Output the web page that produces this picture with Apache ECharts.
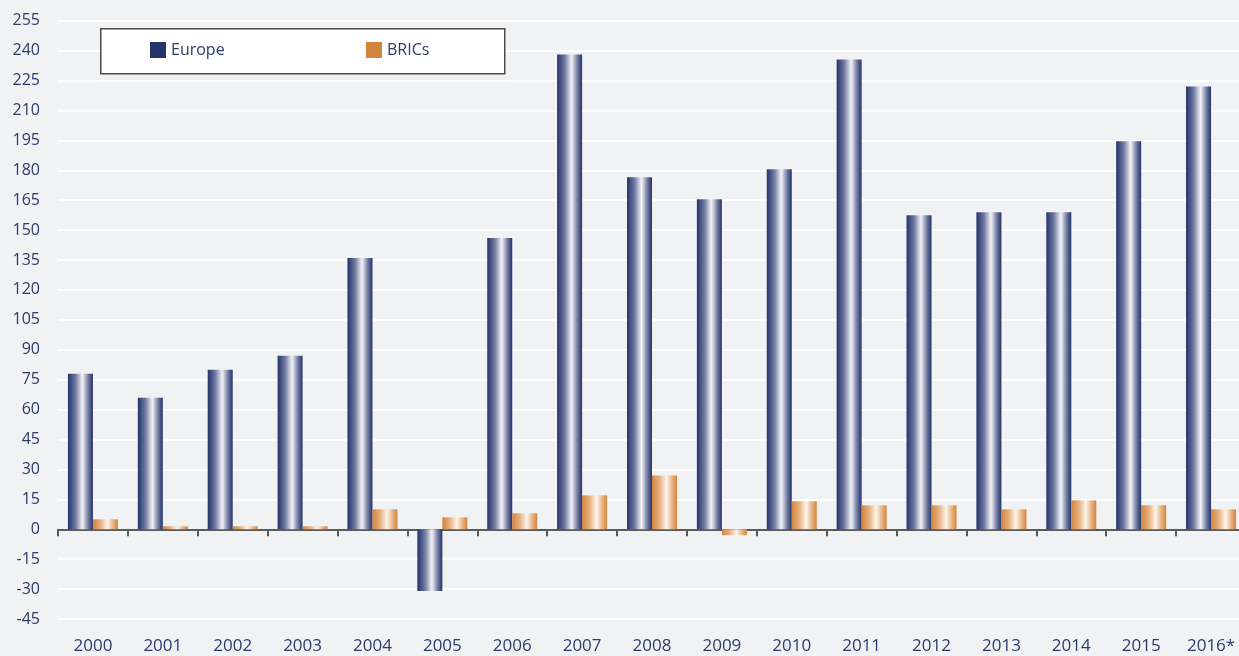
<!DOCTYPE html>
<html>
<head>
<meta charset="utf-8">
<script src="https://cdn.jsdelivr.net/npm/echarts@6/dist/echarts.min.js"></script>
<style>
  html, body { margin: 0; padding: 0; background: #f1f2f4; }
  #chart { width: 1239px; height: 656px; }
</style>
</head>
<body>
<div id="chart"></div>
<script>
const years = ['2000', '2001', '2002', '2003', '2004', '2005', '2006', '2007', '2008',
    '2009', '2010', '2011', '2012', '2013', '2014', '2015', '2016*'];
const europe = [78, 66, 80, 87, 136, -31, 146, 238, 176.5, 165.5, 180.5, 235.5, 157.5, 159, 159, 194.5, 222];
const brics = [5, 1.5, 1.5, 1.5, 10, 6, 8, 17, 27, -3, 14, 12, 12, 10, 14.5, 12, 10];

const navy = '#22346a';
const orange = '#d4843a';
const textColor = '#2c3b6c';
const font = '"Open Sans", "Noto Sans", sans-serif';

const gradient = (edge, mid, light) => ({
    type: 'linear', x: 0, y: 0, x2: 1, y2: 0,
    colorStops: [
        {offset: 0, color: edge},
        {offset: 0.3, color: mid},
        {offset: 0.58, color: light},
        {offset: 0.82, color: mid},
        {offset: 1, color: edge}
    ]
});

const legendBase = {
    top: 42,
    padding: 0,
    itemWidth: 16,
    itemHeight: 16,
    itemGap: 0,
    icon: 'rect',
    z: 10,
    textStyle: {color: textColor, fontSize: 16, fontFamily: font}
};

const option = {
    backgroundColor: '#f1f2f4',
    animation: false,
    graphic: [{
        type: 'rect',
        left: 100,
        top: 28,
        z: 5,
        shape: {width: 404, height: 45},
        style: {fill: '#ffffff', stroke: '#4a4a4a', lineWidth: 1.5}
    }],
    legend: [
        Object.assign({}, legendBase, {left: 150, data: [{name: 'Europe', itemStyle: {color: navy}}]}),
        Object.assign({}, legendBase, {left: 366, data: [{name: 'BRICs', itemStyle: {color: orange}}]})
    ],
    grid: {left: 58, top: 20.7, width: 1188, height: 598.3, containLabel: false, outerBoundsMode: 'none'},
    xAxis: [{
        type: 'category',
        data: years,
        axisLine: {onZero: true, lineStyle: {color: '#5a5a5a', width: 2}},
        axisTick: {show: true, length: 7, interval: 0, lineStyle: {color: '#5a5a5a', width: 2}},
        axisLabel: {show: false}
    }, {
        type: 'category',
        data: years,
        position: 'bottom',
        axisLine: {show: false, onZero: false},
        axisTick: {show: false},
        axisLabel: {color: textColor, fontSize: 17, fontFamily: font, margin: 19, interval: 0}
    }],
    yAxis: {
        type: 'value',
        min: -45,
        max: 255,
        interval: 15,
        axisLine: {show: false},
        axisTick: {show: false},
        axisLabel: {color: textColor, fontSize: 16, fontFamily: font, margin: 18},
        splitLine: {lineStyle: {color: '#ffffff', width: 2}}
    },
    series: [{
        name: 'Europe',
        type: 'bar',
        data: europe,
        barWidth: 25,
        barGap: '0%',
        itemStyle: {color: gradient('#22346a', '#6f789f', '#f3f3f7')}
    }, {
        name: 'BRICs',
        type: 'bar',
        data: brics,
        barWidth: 25,
        barGap: '0%',
        itemStyle: {color: gradient('#d3843c', '#e6b07e', '#fdf5ec')}
    }]
};

const chart = echarts.init(document.getElementById('chart'));
chart.setOption(option);
</script>
</body>
</html>
